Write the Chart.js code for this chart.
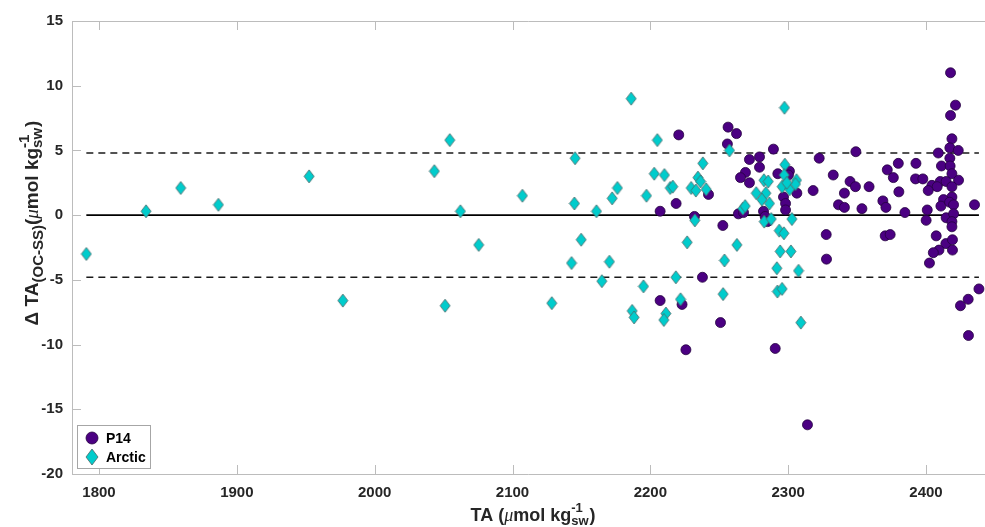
<!DOCTYPE html>
<html>
<head>
<meta charset="utf-8">
<script src="https://cdn.jsdelivr.net/npm/chart.js@4.4.1/dist/chart.umd.min.js"></script>
<style>
  html, body { margin: 0; padding: 0; background: #fff; }
  #wrap { width: 985px; height: 527px; }
</style>
</head>
<body>
<div id="wrap"><canvas id="chart"></canvas></div>
<script>
const FONT = '"Liberation Sans", Arial, Helvetica, sans-serif';

// P14 section: TA and offset between the two estimates
const p14TA = [
  2220.6, 2256.4, 2262.5, 2255.9, 2271.9, 2279.2, 2269.0, 2265.4, 2271.9, 2242.2,
  2218.7, 2207.1, 2232.0, 2252.6, 2263.9, 2267.6, 2237.8, 2207.1, 2223.0, 2250.9,
  2225.8, 2290.6, 2314.0, 2289.3, 2279.2, 2292.5, 2300.9, 2300.2, 2306.3, 2296.6,
  2298.1, 2298.1, 2282.1, 2283.3, 2285.0, 2322.5, 2349.1, 2332.7, 2318.1, 2344.9,
  2348.8, 2358.7, 2340.8, 2336.5, 2340.8, 2353.5, 2371.9, 2376.3, 2379.9, 2380.3,
  2368.7, 2370.9, 2327.6, 2370.4, 2374.0, 2327.8, 2417.8, 2421.4, 2417.8, 2418.8,
  2417.3, 2423.4, 2408.9, 2417.3, 2411.2, 2417.5, 2392.7, 2392.4, 2397.7, 2418.8,
  2423.6, 2410.3, 2414.6, 2404.3, 2408.1, 2401.6, 2418.8, 2418.8, 2412.7, 2410.8,
  2417.1, 2420.0, 2384.7, 2400.9, 2400.1, 2414.6, 2420.0, 2418.8, 2418.8, 2435.2,
  2407.4, 2414.4, 2419.2, 2409.4, 2405.3, 2419.2, 2402.5, 2438.4, 2430.6, 2425.0,
  2430.8
];
const p14Delta = [
  6.2, 6.8, 6.3, 5.5, 4.3, 4.5, 3.3, 2.9, 2.5, 1.6,
  0.9, 0.3, -0.1, -0.8, 0.1, 0.2, -4.8, -6.6, -6.9, -8.3,
  -10.4, -10.3, -16.2, 5.1, 3.7, 3.2, 3.4, 3.1, 1.7, 1.4,
  0.9, 0.4, 0.3, -0.1, -0.5, 4.4, 4.9, 3.1, 1.9, 2.6,
  2.2, 2.2, 1.7, 0.8, 0.6, 0.5, 3.5, 2.9, 4.0, 1.8,
  1.1, 0.6, -1.5, -1.6, -1.5, -3.4, 11.0, 8.5, 7.7, 5.9,
  5.2, 5.0, 4.8, 4.4, 3.8, 3.8, 4.0, 2.8, 2.8, 3.2,
  2.7, 2.6, 2.6, 2.3, 2.2, 1.9, 2.2, 1.4, 1.2, 0.7,
  1.0, 0.8, 0.2, 0.4, -0.4, -0.2, 0.1, -0.5, -0.9, 0.8,
  -1.6, -2.2, -1.9, -2.7, -2.9, -2.7, -3.7, -5.7, -6.5, -7.0,
  -9.3
];

// Arctic section
const arcticTA = [
  1790.8, 1834.1, 1859.3, 1886.6, 1952.4, 1976.9, 2043.3, 2054.5, 2051.1, 2062.2,
  2075.5, 2107.2, 2128.5, 2145.4, 2144.9, 2160.9, 2149.8, 2142.8, 2170.3, 2164.8,
  2176.1, 2172.3, 2197.2, 2195.0, 2202.8, 2210.2, 2214.4, 2216.3, 2205.1, 2186.1,
  2229.6, 2233.0, 2234.5, 2236.4, 2238.1, 2240.5, 2232.3, 2226.7, 2262.8, 2253.8,
  2218.5, 2252.8, 2221.9, 2186.8, 2188.2, 2211.3, 2209.8, 2257.4, 2267.1, 2268.8,
  2276.8, 2297.3, 2297.6, 2282.4, 2285.5, 2306.0, 2297.1, 2283.8, 2280.9, 2286.4,
  2295.6, 2301.0, 2305.3, 2299.0, 2282.6, 2287.7, 2302.7, 2293.5, 2296.9, 2294.2,
  2302.0, 2291.8, 2307.5, 2292.2, 2295.6, 2309.2
];
const arcticDelta = [
  -3.0, 0.3, 2.1, 0.8, 3.0, -6.6, 3.4, 5.8, -7.0, 0.3,
  -2.3, 1.5, -6.8, 4.4, 0.9, 0.3, -1.9, -3.7, -3.6, -5.1,
  2.1, 1.3, 1.5, -5.5, 3.2, 3.1, 2.1, 2.2, 5.8, 9.0,
  2.1, 1.9, 2.9, 2.6, 4.0, 2.0, -0.4, -2.1, -2.3, -3.5,
  -4.8, -6.1, -6.5, -7.4, -7.9, -7.6, -8.1, 5.0, 0.5, 0.7,
  1.7, 8.3, 3.9, 2.7, 2.6, 2.7, 3.1, 1.7, 1.2, 0.9,
  2.2, 2.0, 2.4, 2.5, -0.5, -0.3, -0.3, -1.2, -1.4, -2.8,
  -2.8, -4.1, -4.3, -5.9, -5.7, -8.3
];

const xTicks = [1800, 1900, 2000, 2100, 2200, 2300, 2400];
const yTicks = [-20, -15, -10, -5, 0, 5, 10, 15];
const xLimits = [1780.4, 2442.8];
const yLimits = [-20, 15];
const bandLimit = 4.8;             // dashed lines at +/- this offset
const lineSpan = [1790.8, 2438.4];   // reference lines run over the TA range

const toPoints = (xs, ys) => xs.map((x, i) => ({ x: x, y: ys[i] }));
const hLine = (y) => lineSpan.map(x => ({ x: x, y: y }));

function diamondMarker(w, h, fill, stroke) {
  const c = document.createElement('canvas');
  c.width = w + 2;
  c.height = h + 2;
  const g = c.getContext('2d');
  g.beginPath();
  g.moveTo(c.width / 2, 1);
  g.lineTo(c.width - 1, c.height / 2);
  g.lineTo(c.width / 2, c.height - 1);
  g.lineTo(1, c.height / 2);
  g.closePath();
  g.fillStyle = fill;
  g.fill();
  g.lineWidth = 0.8;
  g.strokeStyle = stroke;
  g.stroke();
  return c;
}

const P14_FILL = '#4b0082';
const P14_EDGE = '#25003f';
const ARC_FILL = '#00cccc';
const ARC_EDGE = '#4a6666';
const diamond = diamondMarker(10, 13, ARC_FILL, ARC_EDGE);

// text runs with sub/superscripts, laid out left to right
function runsWidth(ctx, runs) {
  let w = 0;
  runs.forEach(r => {
    ctx.font = r.font;
    if (r.stack) {
      w += Math.max(ctx.measureText(r.sup).width, ctx.measureText(r.sub).width) + 1;
    } else {
      w += ctx.measureText(r.t).width;
    }
  });
  return w;
}
function drawRuns(ctx, runs, x, y) {
  runs.forEach(r => {
    ctx.font = r.font;
    if (r.stack) {
      ctx.fillText(r.sup, x, y - 9);
      ctx.fillText(r.sub, x, y + 4);
      x += Math.max(ctx.measureText(r.sup).width, ctx.measureText(r.sub).width) + 1;
    } else {
      ctx.fillText(r.t, x, y + (r.dy || 0));
      x += ctx.measureText(r.t).width;
    }
  });
}

const B18 = 'bold 18px ' + FONT;
const B13 = 'bold 13px ' + FONT;
const B19 = 'bold 19px ' + FONT;
const B15 = 'bold 15px ' + FONT;
const MU18 = 'italic 18px "Liberation Serif", "DejaVu Serif", serif';
const MU19 = 'italic 19px "Liberation Serif", "DejaVu Serif", serif';

const xTitle = [
  { t: 'TA (', font: B18 }, { t: 'μ', font: MU18 }, { t: 'mol kg', font: B18 },
  { stack: true, sup: '-1', sub: 'sw', font: B13 }, { t: ')', font: B18 }
];
const yTitle = [
  { t: 'Δ TA', font: B19 }, { t: '(OC-SS)', font: B15, dy: 5 }, { t: '(', font: B19 },
  { t: 'μ', font: MU19 }, { t: 'mol kg', font: B19 },
  { stack: true, sup: '-1', sub: 'sw', font: B15 }, { t: ')', font: B19 }
];

const framePlugin = {
  id: 'frame',
  beforeDatasetsDraw(chart) {
    const { ctx, chartArea: a, scales: { x, y } } = chart;
    ctx.save();
    ctx.strokeStyle = '#bcbcbc';
    ctx.lineWidth = 1;
    ctx.beginPath();
    ctx.moveTo(a.left + 0.5, a.top + 0.5);
    ctx.lineTo(a.right, a.top + 0.5);
    ctx.moveTo(a.left + 0.5, a.top);
    ctx.lineTo(a.left + 0.5, a.bottom + 0.5);
    ctx.lineTo(a.right, a.bottom + 0.5);
    // inward tick marks
    xTicks.forEach(v => {
      const px = Math.round(x.getPixelForValue(v)) + 0.5;
      ctx.moveTo(px, a.bottom);
      ctx.lineTo(px, a.bottom - 9);
      ctx.moveTo(px, a.top);
      ctx.lineTo(px, a.top + 9);
    });
    yTicks.forEach(v => {
      const py = Math.round(y.getPixelForValue(v)) + 0.5;
      ctx.moveTo(a.left, py);
      ctx.lineTo(a.left + 9, py);
    });
    ctx.stroke();
    ctx.restore();
  },
  afterDraw(chart) {
    const { ctx, chartArea: a } = chart;
    ctx.save();
    ctx.fillStyle = '#262626';
    ctx.textBaseline = 'alphabetic';

    // x axis title
    const xw = runsWidth(ctx, xTitle);
    drawRuns(ctx, xTitle, 533 - xw / 2, 521);

    // y axis title, rotated
    const yw = runsWidth(ctx, yTitle);
    ctx.save();
    ctx.translate(38, 223);
    ctx.rotate(-Math.PI / 2);
    drawRuns(ctx, yTitle, -yw / 2, 0);
    ctx.restore();

    // legend box
    const lx = a.left + 5, ly = a.bottom - 49, lw = 73, lh = 43;
    ctx.fillStyle = '#ffffff';
    ctx.fillRect(lx, ly, lw, lh);
    ctx.strokeStyle = '#a6a6a6';
    ctx.lineWidth = 1;
    ctx.strokeRect(lx + 0.5, ly + 0.5, lw, lh);

    ctx.beginPath();
    ctx.arc(lx + 15, ly + 13, 6, 0, Math.PI * 2);
    ctx.fillStyle = P14_FILL;
    ctx.fill();
    ctx.strokeStyle = P14_EDGE;
    ctx.lineWidth = 0.8;
    ctx.stroke();
    const big = diamondMarker(12, 16, ARC_FILL, ARC_EDGE);
    ctx.drawImage(big, lx + 15 - big.width / 2, ly + 32 - big.height / 2);

    ctx.fillStyle = '#000000';
    ctx.font = 'bold 14px ' + FONT;
    ctx.fillText('P14', lx + 29, ly + 18);
    ctx.fillText('Arctic', lx + 29, ly + 37);
    ctx.restore();
  }
};

new Chart(document.getElementById('chart'), {
  type: 'scatter',
  data: {
    datasets: [
      {
        label: 'zero',
        type: 'line',
        data: hLine(0),
        borderColor: '#000000',
        borderWidth: 1.6,
        pointRadius: 0,
        order: 3
      },
      {
        label: 'upper',
        type: 'line',
        data: hLine(bandLimit),
        borderColor: '#1a1a1a',
        borderWidth: 1.5,
        borderDash: [7, 5],
        pointRadius: 0,
        order: 3
      },
      {
        label: 'lower',
        type: 'line',
        data: hLine(-bandLimit),
        borderColor: '#1a1a1a',
        borderWidth: 1.5,
        borderDash: [7, 5],
        pointRadius: 0,
        order: 3
      },
      {
        label: 'P14',
        data: toPoints(p14TA, p14Delta),
        pointStyle: 'circle',
        pointRadius: 5,
        pointBackgroundColor: P14_FILL,
        pointBorderColor: P14_EDGE,
        pointBorderWidth: 0.8,
        order: 2
      },
      {
        label: 'Arctic',
        data: toPoints(arcticTA, arcticDelta),
        pointStyle: diamond,
        pointRadius: 6,
        order: 1
      }
    ]
  },
  options: {
    responsive: true,
    maintainAspectRatio: false,
    animation: false,
    events: [],
    layout: { autoPadding: false, padding: { top: 21, right: 0, left: 0, bottom: 0 } },
    plugins: {
      legend: { display: false },
      tooltip: { enabled: false }
    },
    scales: {
      x: {
        type: 'linear',
        min: xLimits[0],
        max: xLimits[1],
        afterBuildTicks: s => { s.ticks = xTicks.map(v => ({ value: v })); },
        afterFit: s => { s.height = 53; },
        grid: { display: false, drawTicks: false },
        border: { display: false },
        ticks: {
          padding: 10,
          color: '#262626',
          font: { family: FONT, size: 15, weight: 'bold' },
          callback: v => String(v)
        }
      },
      y: {
        type: 'linear',
        min: yLimits[0],
        max: yLimits[1],
        afterBuildTicks: s => { s.ticks = yTicks.map(v => ({ value: v })); },
        afterFit: s => { s.width = 72; },
        grid: { display: false, drawTicks: false },
        border: { display: false },
        ticks: {
          padding: 9,
          color: '#262626',
          font: { family: FONT, size: 15, weight: 'bold' },
          callback: v => String(v)
        }
      }
    }
  },
  plugins: [framePlugin]
});
</script>
</body>
</html>
